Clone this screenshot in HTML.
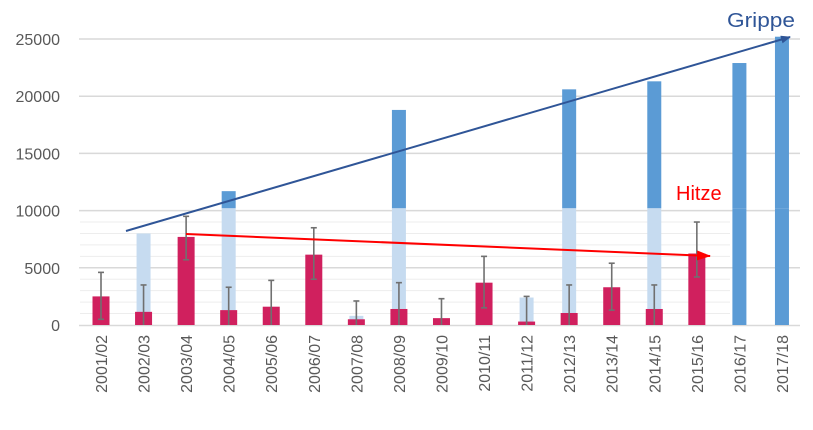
<!DOCTYPE html>
<html><head><meta charset="utf-8"><style>
html,body{margin:0;padding:0;background:#fff;}
svg text{font-family:"Liberation Sans",sans-serif;}
</style></head><body>
<svg id="chart" width="813" height="425" xmlns="http://www.w3.org/2000/svg"></svg>
<script>
const categories=["2001/02","2002/03","2003/04","2004/05","2005/06","2006/07","2007/08","2008/09","2009/10","2010/11","2011/12","2012/13","2013/14","2014/15","2015/16","2016/17","2017/18"];
const grippe=[0,8000,0,11700,0,0,800,18800,0,0,2400,20600,0,21300,0,22900,25200];
const hitze=[2500,1150,7700,1300,1600,6150,500,1400,600,3700,300,1050,3300,1400,6250,null,null];
const errLow=[500,0,5700,0,0,4000,0,0,0,1500,0,0,1300,0,4200,null,null];
const errHigh=[4600,3500,9500,3300,3900,8500,2100,3700,2300,6000,2500,3500,5400,3500,9000,null,null];
const yTicks=[0,5000,10000,15000,20000,25000];
const fadeLimit=10200;
const NS="http://www.w3.org/2000/svg";
const svg=document.getElementById('chart');
const y=v=>325-v*0.01144;
const x=i=>101+i*42.56;
function el(t,a,p){const e=document.createElementNS(NS,t);for(const k in a)e.setAttribute(k,a[k]);(p||svg).appendChild(e);return e;}
for(let v=1000;v<=10000;v+=1000){const l=el('line',{x1:80,x2:730,y1:y(v),y2:y(v),stroke:'#ededed','stroke-width':1});

}
yTicks.forEach(v=>{
 if(v>0){const g=el('line',{x1:79,x2:800,y1:y(v),y2:y(v),stroke:'#d9d9d9','stroke-width':1.5});
 
 }
 const t=el('text',{x:60,y:y(v)+6,'text-anchor':'end','font-size':16,fill:'#595959'});t.textContent=v;
 
 
});
el('line',{x1:79,x2:800,y1:325.5,y2:325.5,stroke:'#d9d9d9','stroke-width':1.5});
categories.forEach((c,i)=>{
 const cx=x(i);
 const gv=grippe[i];
 if(gv>0){
  if(gv>fadeLimit){const b=el('rect',{x:cx-7,y:y(gv),width:14,height:y(fadeLimit)-y(gv),fill:'#5b9bd5'});
  
  }
  const f=el('rect',{x:cx-7,y:y(Math.min(gv,fadeLimit)),width:14,height:325-y(Math.min(gv,fadeLimit)),fill:gv>=22000?'#5b9bd5':'#c6dbf0'});
  
  
 }
 const hv=hitze[i];
 if(hv!==null){
  const r=el('rect',{x:cx-8.5,y:y(hv),width:17,height:325-y(hv),fill:'#d0205e'});
  
  
  const e=el('g',{stroke:'#707070','stroke-width':1.6});
  
  
  el('line',{x1:cx,x2:cx,y1:y(errHigh[i]),y2:y(errLow[i])},e);
  el('line',{x1:cx-3,x2:cx+3,y1:y(errHigh[i]),y2:y(errHigh[i])},e);
  if(errLow[i]>0)el('line',{x1:cx-3,x2:cx+3,y1:y(errLow[i]),y2:y(errLow[i])},e);
 }
 const t=el('text',{transform:`translate(${cx+6},335) rotate(-90)`,'text-anchor':'end','font-size':16,fill:'#595959'});t.textContent=c;
 
 
});
const defs=el('defs',{});
const m1=el('marker',{id:'ab',markerWidth:10,markerHeight:8,refX:9,refY:4,orient:'auto',markerUnits:'userSpaceOnUse'},defs);
el('path',{d:'M0,0 L10,4 L0,8 Z',fill:'#2f5597'},m1);
const m2=el('marker',{id:'ar',markerWidth:14,markerHeight:10,refX:13,refY:5,orient:'auto',markerUnits:'userSpaceOnUse'},defs);
el('path',{d:'M0,0 L14,5 L0,10 Z',fill:'#ff0000'},m2);
const a1=el('line',{x1:126,y1:231,x2:790,y2:37,stroke:'#2f5597','stroke-width':2,'marker-end':'url(#ab)'});


const a2=el('line',{x1:186,y1:234,x2:710,y2:256,stroke:'#ff0000','stroke-width':2,'marker-end':'url(#ar)'});


const g=el('text',{x:727,y:27,'font-size':20,fill:'#2f5597',textLength:68,lengthAdjust:'spacingAndGlyphs'});g.textContent='Grippe';


const h=el('text',{x:676,y:200,'font-size':20,fill:'#ff0000'});h.textContent='Hitze';


</script>
</body></html>
